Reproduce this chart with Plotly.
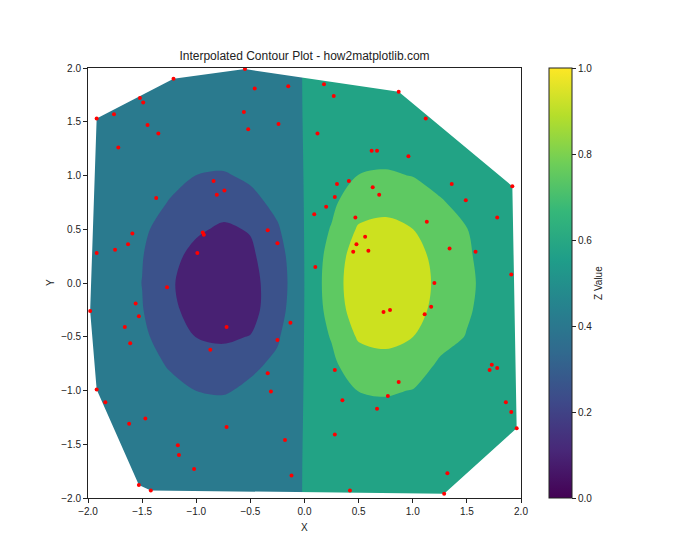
import numpy as np
import plotly.graph_objects as go

# ---- scattered sample points (red dots) ----
pts_x = [-0.55, -1.21, -1.92, -1.76, -1.52, -1.49, -1.45, -1.35, -1.72, -0.46,
         -0.15, -0.56, -0.52, -0.24, -0.84, -0.74, -0.81, -1.37, -1.59, -1.63,
         -1.75, -1.92, -0.94, -0.93, -0.99, -0.34, -0.25, -1.27, -1.56, -1.98,
         -1.53, -1.66, -1.61, -0.72, -0.13, -0.25, -0.87, -0.34, -0.31, -1.92,
         -1.84, -1.47, -1.62, -0.72, -0.18, -1.17, -1.16, -1.02, -0.12, -1.53,
         -1.42, 0.18, 0.27, 0.87, 1.12, 0.12, 0.62, 0.67, 0.96, 1.92,
         1.36, 1.49, 0.30, 0.41, 0.63, 0.69, 0.28, 0.20, 0.09, 0.47,
         1.78, 1.13, 0.56, 0.48, 0.59, 0.45, 1.34, 1.58, 0.10, 1.91,
         1.20, 0.73, 0.79, 1.17, 1.11, 0.28, 0.87, 0.77, 1.73, 1.71,
         1.78, 0.35, 0.67, 1.86, 1.91, 1.96, 0.28, 1.32, 0.42, 1.29]
pts_y = [1.99, 1.90, 1.53, 1.57, 1.72, 1.68, 1.47, 1.39, 1.26, 1.81,
         1.83, 1.59, 1.43, 1.48, 0.95, 0.86, 0.82, 0.79, 0.46, 0.36,
         0.31, 0.28, 0.47, 0.45, 0.28, 0.49, 0.37, -0.04, -0.19, -0.26,
         -0.31, -0.41, -0.56, -0.41, -0.37, -0.53, -0.62, -0.84, -1.01, -0.99,
         -1.11, -1.26, -1.31, -1.34, -1.46, -1.51, -1.60, -1.73, -1.79, -1.88,
         -1.93, 1.85, 1.74, 1.78, 1.53, 1.39, 1.23, 1.23, 1.18, 0.90,
         0.92, 0.77, 0.92, 0.95, 0.89, 0.82, 0.80, 0.71, 0.64, 0.61,
         0.61, 0.57, 0.43, 0.36, 0.30, 0.29, 0.32, 0.29, 0.15, 0.08,
         0.00, -0.27, -0.25, -0.22, -0.29, -0.81, -0.92, -1.05, -0.76, -0.81,
         -0.79, -1.09, -1.17, -1.11, -1.20, -1.35, -1.41, -1.77, -1.93, -1.96]

# ---- interpolated surface ----
grid_x = [-2.0, -1.75, -1.5, -1.25, -1.0, -0.75, -0.5, -0.25, -0.05,
          0.05, 0.25, 0.5, 0.75, 1.0, 1.25, 1.5, 1.75, 2.0]
grid_y = [-2.0, -1.75, -1.5, -1.25, -1.0, -0.75, -0.5, -0.25, 0.0,
          0.25, 0.5, 0.75, 1.0, 1.25, 1.5, 1.75, 2.0]
grid_z = [
    [0.420, 0.419, 0.418, 0.417, 0.415, 0.415, 0.416, 0.418, 0.419, 0.530, 0.530, 0.531, 0.531, 0.531, 0.530, 0.530, 0.530, 0.530],
    [0.420, 0.418, 0.416, 0.411, 0.407, 0.406, 0.409, 0.414, 0.417, 0.530, 0.531, 0.533, 0.533, 0.533, 0.531, 0.530, 0.530, 0.530],
    [0.419, 0.416, 0.409, 0.399, 0.389, 0.386, 0.394, 0.405, 0.412, 0.530, 0.533, 0.540, 0.541, 0.539, 0.535, 0.532, 0.531, 0.530],
    [0.418, 0.412, 0.398, 0.375, 0.354, 0.349, 0.365, 0.388, 0.404, 0.531, 0.540, 0.559, 0.563, 0.557, 0.544, 0.538, 0.533, 0.530],
    [0.416, 0.405, 0.379, 0.337, 0.299, 0.290, 0.318, 0.362, 0.395, 0.533, 0.553, 0.602, 0.611, 0.597, 0.564, 0.548, 0.536, 0.531],
    [0.414, 0.396, 0.354, 0.287, 0.225, 0.211, 0.280, 0.318, 0.385, 0.536, 0.577, 0.674, 0.693, 0.665, 0.585, 0.567, 0.542, 0.532],
    [0.411, 0.386, 0.327, 0.234, 0.147, 0.128, 0.155, 0.289, 0.375, 0.540, 0.607, 0.768, 0.798, 0.751, 0.643, 0.595, 0.550, 0.533],
    [0.409, 0.378, 0.306, 0.192, 0.086, 0.062, 0.090, 0.259, 0.365, 0.544, 0.634, 0.850, 0.892, 0.829, 0.682, 0.612, 0.557, 0.535],
    [0.408, 0.376, 0.298, 0.176, 0.062, 0.037, 0.090, 0.248, 0.360, 0.545, 0.645, 0.884, 0.930, 0.860, 0.698, 0.620, 0.560, 0.535],
    [0.409, 0.378, 0.306, 0.192, 0.110, 0.062, 0.120, 0.259, 0.365, 0.544, 0.634, 0.850, 0.892, 0.829, 0.682, 0.612, 0.557, 0.535],
    [0.411, 0.386, 0.327, 0.234, 0.170, 0.128, 0.160, 0.289, 0.375, 0.540, 0.607, 0.768, 0.798, 0.751, 0.643, 0.602, 0.550, 0.533],
    [0.414, 0.396, 0.354, 0.295, 0.225, 0.211, 0.270, 0.326, 0.385, 0.536, 0.577, 0.674, 0.693, 0.665, 0.610, 0.567, 0.542, 0.532],
    [0.416, 0.405, 0.379, 0.337, 0.299, 0.290, 0.318, 0.362, 0.395, 0.533, 0.553, 0.602, 0.611, 0.597, 0.564, 0.548, 0.536, 0.531],
    [0.418, 0.412, 0.398, 0.375, 0.354, 0.349, 0.365, 0.388, 0.404, 0.531, 0.540, 0.559, 0.563, 0.557, 0.544, 0.538, 0.533, 0.530],
    [0.419, 0.416, 0.409, 0.399, 0.389, 0.386, 0.394, 0.405, 0.412, 0.530, 0.533, 0.540, 0.541, 0.539, 0.535, 0.532, 0.531, 0.530],
    [0.420, 0.418, 0.416, 0.411, 0.407, 0.406, 0.409, 0.414, 0.417, 0.530, 0.531, 0.533, 0.533, 0.533, 0.531, 0.530, 0.530, 0.530],
    [0.420, 0.419, 0.418, 0.417, 0.415, 0.415, 0.416, 0.418, 0.419, 0.530, 0.530, 0.531, 0.531, 0.531, 0.530, 0.530, 0.530, 0.530],
]

tick_vals = [-2.0, -1.5, -1.0, -0.5, 0.0, 0.5, 1.0, 1.5, 2.0]
cbar_ticks = [0.0, 0.2, 0.4, 0.6, 0.8, 1.0]

band_colors = ["#482173", "#3b528b", "#2a7a8e", "#22a385", "#5ec962", "#cce11f"]
FONT = "Liberation Sans"


def convex_hull(xs, ys):
    pts = sorted(set(zip(xs, ys)))

    def cross(o, a, b):
        return (a[0] - o[0]) * (b[1] - o[1]) - (a[1] - o[1]) * (b[0] - o[0])

    lower, upper = [], []
    for p in pts:
        while len(lower) >= 2 and cross(lower[-2], lower[-1], p) <= 0:
            lower.pop()
        lower.append(p)
    for p in reversed(pts):
        while len(upper) >= 2 and cross(upper[-2], upper[-1], p) <= 0:
            upper.pop()
        upper.append(p)
    return lower[:-1] + upper[:-1]  # counter-clockwise


hull = convex_hull(pts_x, pts_y)
hx = [p[0] for p in hull] + [hull[0][0]]
hy = [p[1] for p in hull] + [hull[0][1]]
# outer frame (clockwise) + hull (counter-clockwise) -> hole where data exists
mask_x = [-2.3, -2.3, 2.3, 2.3, -2.3] + hx
mask_y = [-2.3, 2.3, 2.3, -2.3, -2.3] + hy

n = len(band_colors)
colorscale = [[i / (n - 1), c] for i, c in enumerate(band_colors)]

fig = go.Figure()
fig.add_trace(go.Contour(
    x=grid_x, y=grid_y, z=grid_z,
    contours=dict(start=0.15, end=0.75, size=0.15, coloring="fill", showlines=False),
    line=dict(width=0, smoothing=0.9),
    colorscale=colorscale, showscale=False, hoverinfo="skip",
))
fig.add_trace(go.Scatter(
    x=mask_x, y=mask_y, mode="none", fill="toself", fillcolor="white",
    hoverinfo="skip", showlegend=False,
))
fig.add_trace(go.Scatter(
    x=pts_x, y=pts_y, mode="markers",
    marker=dict(color="red", size=4, line=dict(width=0)),
    showlegend=False, hoverinfo="skip",
))
fig.add_trace(go.Scatter(
    x=[0, 0], y=[0, 0], mode="markers",
    marker=dict(
        color=[0.0, 1.0], colorscale="Viridis", cmin=0, cmax=1, opacity=0, size=1,
        showscale=True,
        colorbar=dict(
            x=(549 - 88) / 433, xanchor="left", xpad=0, ypad=0,
            y=0.5, yanchor="middle", len=1.0, lenmode="fraction",
            thickness=23, outlinewidth=1, outlinecolor="#222",
            ticks="outside", ticklen=4, tickwidth=1, tickcolor="#222",
            tickvals=cbar_ticks, tickformat=".1f",
            tickfont=dict(family=FONT, size=10, color="#222"),
        ),
    ),
    showlegend=False, hoverinfo="skip",
))

axis_common = dict(
    range=[-2, 2], tickvals=tick_vals, tickformat=".1f",
    showgrid=False, zeroline=False, showline=True, mirror=True,
    linecolor="#222", linewidth=1, ticks="outside", ticklen=4, tickwidth=1,
    tickcolor="#222", tickfont=dict(family=FONT, size=10, color="#222"),
)
fig.update_xaxes(**axis_common)
fig.update_yaxes(**axis_common)

fig.update_layout(
    width=700, height=560,
    margin=dict(l=88, r=179, t=68, b=62, pad=0),
    paper_bgcolor="white", plot_bgcolor="white",
    title=dict(text="Interpolated Contour Plot - how2matplotlib.com",
               x=(304.5) / 700, xanchor="center", y=1 - 56 / 560, yanchor="middle",
               font=dict(family=FONT, size=12, color="#222")),
    annotations=[
        dict(text="X", xref="paper", yref="paper", x=0.5, y=(498 - 527) / 430,
             showarrow=False, xanchor="center", yanchor="middle",
             font=dict(family=FONT, size=10, color="#222")),
        dict(text="Y", xref="paper", yref="paper", x=(50 - 88) / 433, y=0.5,
             showarrow=False, xanchor="center", yanchor="middle", textangle=-90,
             font=dict(family=FONT, size=10, color="#222")),
        dict(text="Z Value", xref="paper", yref="paper", x=(598 - 88) / 433, y=0.5,
             showarrow=False, xanchor="center", yanchor="middle", textangle=-90,
             font=dict(family=FONT, size=10, color="#222")),
    ],
    showlegend=False,
)

fig.write_html("out.html")
